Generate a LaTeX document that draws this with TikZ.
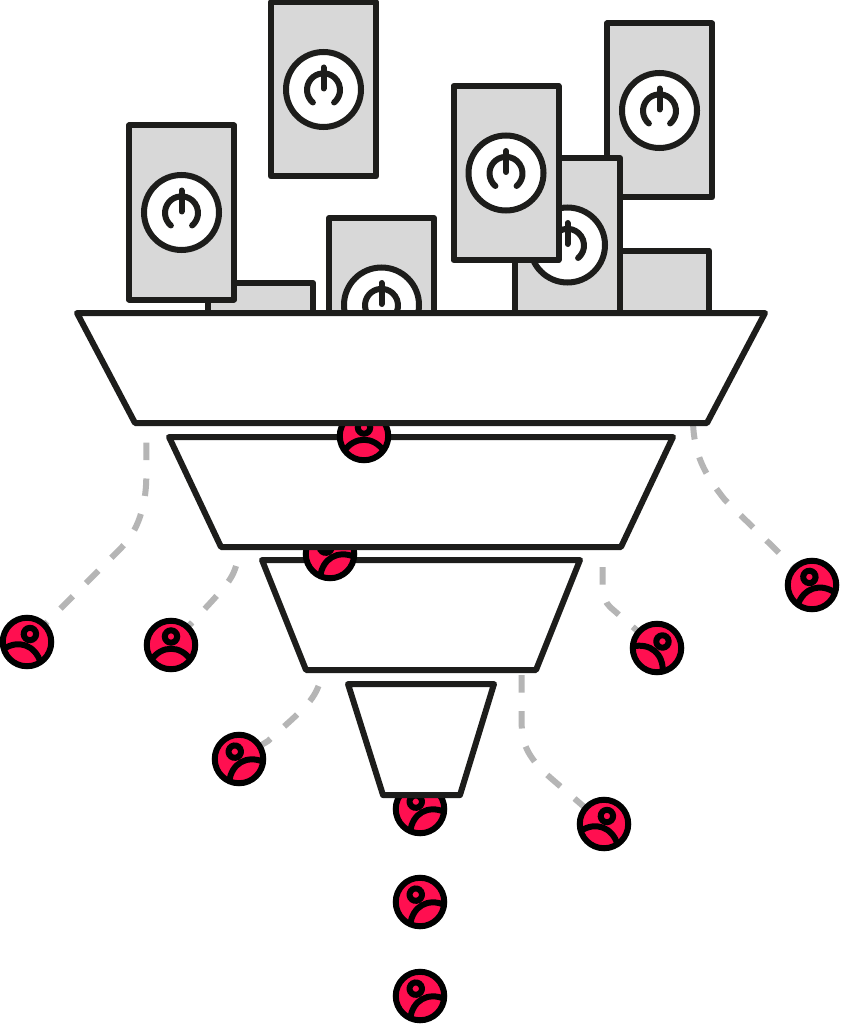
\documentclass[tikz,border=0pt]{standalone}
\definecolor{ink}{HTML}{1D1D1B}
\definecolor{cardgrey}{HTML}{D8D8D8}
\definecolor{dashgrey}{HTML}{B5B5B5}
\definecolor{personred}{HTML}{FF0F50}
\tikzset{
  every picture/.style={x=1pt,y=-1pt},
  cardbox/.style={draw=ink,fill=cardgrey,line width=6pt,line join=round,rectangle,minimum width=105pt,minimum height=174pt,inner sep=0pt,outer sep=0pt},
  dialface/.style={draw=ink,fill=white,line width=6pt,circle,minimum size=75pt,inner sep=0pt,outer sep=0pt},
  dialmark/.style={draw=ink,line width=6pt,line cap=round},
  funnelpart/.style={draw=ink,fill=white,line width=6pt,line join=round},
  personface/.style={draw=black,fill=personred,line width=6pt,circle,minimum size=48.5pt,inner sep=0pt,outer sep=0pt},
  personline/.style={draw=black,line width=6pt},
  leak/.style={draw=dashgrey,line width=6pt,dash pattern=on 17.5pt off 18.5pt},
}
\newcommand{\carddial}[3]{%
  \node[cardbox] (#1) at (#2,#3) {};
  \node[dialface] (#1d) at (#2,#3) {};
  \begin{scope}[shift={(#2,#3)}]
    \draw[dialmark] (-10.6,13) arc[start angle=230,end angle=-50,x radius=16.5,y radius=-16.5];
    \draw[dialmark] (0,-22) -- (0,-1);
  \end{scope}}
\newcommand{\personicon}[4]{%
  \node[personface] (#1) at (#2,#3) {};
  \begin{scope}[shift={(#2,#3)},rotate=#4]
    \clip (0,0) circle[radius=24];
    \draw[personline] (-20,15) .. controls (-9,0) and (9,0) .. (20,15);
    \draw[personline,fill=personred] (0,-8.5) circle[radius=6.2];
  \end{scope}}
\begin{document}
\begin{tikzpicture}
\useasboundingbox (0,0) rectangle (840,1024);
\fill[white] (0,0) rectangle (840,1024);
% free ends of the leak lines
\coordinate (s1) at (146.3,442.5);
\coordinate (s2) at (236,566);
\coordinate (s3) at (318.5,686);
\coordinate (s4) at (521.7,675);
\coordinate (s5) at (602.7,567);
\coordinate (s6) at (693,422);
% cards at the back
\carddial{c5}{659.5}{110.5}
\node[cardbox,minimum height=90pt] (c7) at (656.5,295.5) {};
\carddial{c6}{567.5}{245}
\carddial{c2}{323.5}{89.5}
\node[cardbox,minimum height=77pt] (c8) at (260.5,321.5) {};
\carddial{c1}{181.5}{212.5}
\carddial{c3}{381.5}{305}
\carddial{c4}{506}{173}
% leak lines end under the people
\path[leak] (s1) -- (146.3,478) .. controls (146,505) and (138,531) .. (122,547) -- (27,642);
\path[leak] (s2) .. controls (231,583) and (222,590) .. (171,645);
\path[leak] (s3) .. controls (312,703) and (300,712) .. (268,741) -- (239,759);
\path[leak] (s4) -- (521.7,725) .. controls (521.7,745) and (530,760) .. (550.7,778) -- (604,824);
\path[leak] (s5) -- (602.7,587) .. controls (603,596) and (605,602) .. (610,607) -- (657,648);
\path[leak] (s6) .. controls (694,455) and (705,475) .. (725,500) -- (812,585);
\personicon{pa}{27}{642}{-20}
\personicon{pb}{171}{645}{0}
\personicon{pc}{239}{759}{30}
\personicon{pd}{657}{648}{-40}
\personicon{pe}{604}{824}{-20}
\personicon{pf}{812}{585}{18}
\personicon{pg}{420}{809}{30}
\personicon{ph}{420}{902}{30}
\personicon{pi}{420}{996}{30}
% funnel
\draw[funnelpart] (348,684) -- (494,684) -- (460,795) -- (383,795) -- cycle;
\draw[funnelpart] (262,560) -- (580,560) -- (536,670) -- (306,670) -- cycle;
\personicon{pk}{330}{554}{30}
\draw[funnelpart] (169,437) -- (673,437) -- (621,547) -- (221,547) -- cycle;
\personicon{pj}{364}{436}{0}
\draw[funnelpart] (77,313) -- (765,313) -- (707,423) -- (135,423) -- cycle;
\end{tikzpicture}
\end{document}
